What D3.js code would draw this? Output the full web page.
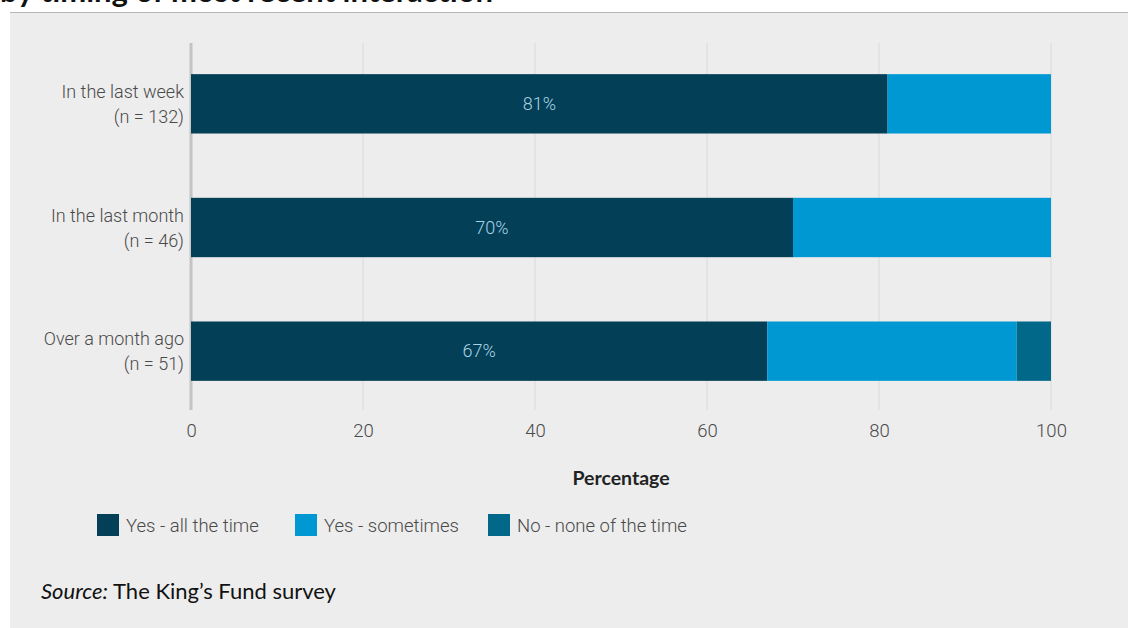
<!DOCTYPE html>
<html>
<head>
<meta charset="utf-8">
<script src="https://cdn.jsdelivr.net/npm/d3@7"></script>
<style>
  body { margin: 0; background: #fff; }
  svg { display: block; }
</style>
</head>
<body>
<div id="chart"></div>
<script>
// data
const categories = ['In the last week', 'In the last month', 'Over a month ago']
const sampleSizes = ['(n = 132)', '(n = 46)', '(n = 51)']
const seriesNames = ['Yes - all the time', 'Yes - sometimes', 'No - none of the time']
const allTheTime = [81, 70, 67]
const sometimes = [19, 30, 29]
const noneOfTheTime = [0, 0, 4]
const xTicks = [0, 20, 40, 60, 80, 100]

const width = 1128
const height = 628
const colors = ['#033f57', '#0098d2', '#026889']

const svg = d3.select('#chart').append('svg')
  .attr('width', width)
  .attr('height', height)

// grey panel
svg.append('rect')
  .attr('x', 10).attr('y', 12)
  .attr('width', width - 10).attr('height', height - 12)
  .attr('fill', '#ededed')
svg.append('line')
  .attr('x1', 10).attr('x2', width)
  .attr('y1', 12.5).attr('y2', 12.5)
  .attr('stroke', '#b8b8b8')

// title, cut off by the top edge like in the original crop
svg.append('text')
  .attr('x', 0).attr('y', 2)
  .attr('font-family', 'Lato, sans-serif')
  .attr('font-weight', 'bold')
  .attr('font-size', 31)
  .attr('fill', '#111')
  .text('by timing of most recent interaction')

const x = d3.scaleLinear().domain([0, 100]).range([191, 1051])
const y = d3.scaleBand().domain(categories).range([42, 413]).paddingInner(0.52).paddingOuter(0.26)

// gridlines
svg.append('g')
  .selectAll('line')
  .data(xTicks.slice(1))
  .join('line')
  .attr('x1', d => x(d)).attr('x2', d => x(d))
  .attr('y1', 43).attr('y2', 410)
  .attr('stroke', '#dadada')
  .attr('stroke-width', 1)

svg.append('line')
  .attr('x1', x(0)).attr('x2', x(0))
  .attr('y1', 43).attr('y2', 410)
  .attr('stroke', '#c4c4c4')
  .attr('stroke-width', 3)

const rows = categories.map((c, i) => ({
  cat: c, values: [allTheTime[i], sometimes[i], noneOfTheTime[i]]
}))
const stack = d3.stack().keys([0, 1, 2]).value((d, k) => d.values[k])
const stacked = stack(rows)

svg.append('g')
  .selectAll('g')
  .data(stacked)
  .join('g')
  .attr('fill', (d, i) => colors[i])
  .selectAll('rect')
  .data(d => d)
  .join('rect')
  .attr('x', d => x(d[0]))
  .attr('y', d => y(d.data.cat))
  .attr('width', d => x(d[1]) - x(d[0]))
  .attr('height', y.bandwidth())

// value labels in dark segment
svg.append('g')
  .selectAll('text')
  .data(rows)
  .join('text')
  .attr('x', d => x(d.values[0] / 2))
  .attr('y', d => y(d.cat) + y.bandwidth() / 2 + 6)
  .attr('text-anchor', 'middle')
  .attr('font-family', 'Roboto, sans-serif')
  .attr('font-weight', 300)
  .attr('font-size', 18)
  .attr('fill', '#a8d3e4')
  .text(d => d.values[0] + '%')

// category labels
const catLabels = svg.append('g')
  .selectAll('text')
  .data(categories)
  .join('text')
  .attr('text-anchor', 'end')
  .attr('font-family', 'Roboto, sans-serif')
  .attr('font-weight', 300)
  .attr('font-size', 18)
  .attr('fill', '#4a4a4a')
catLabels.append('tspan')
  .attr('x', 184)
  .attr('y', d => y(d) + 24)
  .text(d => d)
catLabels.append('tspan')
  .attr('x', 184)
  .attr('y', (d, i) => y(d) + 49)
  .text((d, i) => sampleSizes[i])

// x axis ticks
const axis = svg.append('g')
  .attr('transform', 'translate(0,410)')
  .call(d3.axisBottom(x).tickValues(xTicks).tickSize(0).tickPadding(14))
axis.select('.domain').remove()
axis.selectAll('text')
  .attr('font-family', 'Roboto, sans-serif')
  .attr('font-weight', 300)
  .attr('font-size', 18.5)
  .attr('fill', '#4a4a4a')

svg.append('text')
  .attr('x', (x(0) + x(100)) / 2)
  .attr('y', 485)
  .attr('text-anchor', 'middle')
  .attr('font-family', 'Lato, sans-serif')
  .attr('font-weight', 'bold')
  .attr('font-size', 19.5)
  .attr('fill', '#222')
  .text('Percentage')

// legend
const legendX = [97, 295, 488]
const legend = svg.append('g')
  .selectAll('g')
  .data(seriesNames)
  .join('g')
  .attr('transform', (d, i) => `translate(${legendX[i]},514)`)
legend.append('rect')
  .attr('width', 22).attr('height', 22)
  .attr('fill', (d, i) => colors[i])
legend.append('text')
  .attr('x', 29).attr('y', 18)
  .attr('font-family', 'Roboto, sans-serif')
  .attr('font-weight', 300)
  .attr('font-size', 18.5)
  .attr('fill', '#4a4a4a')
  .text(d => d)

// source
const src = svg.append('text')
  .attr('x', 41).attr('y', 599)
  .attr('font-family', 'Lato, sans-serif')
  .attr('font-size', 22)
  .attr('fill', '#111')
src.append('tspan').attr('font-style', 'italic').text('Source:')
src.append('tspan').text(' The King\u2019s Fund survey')
</script>
</body>
</html>
